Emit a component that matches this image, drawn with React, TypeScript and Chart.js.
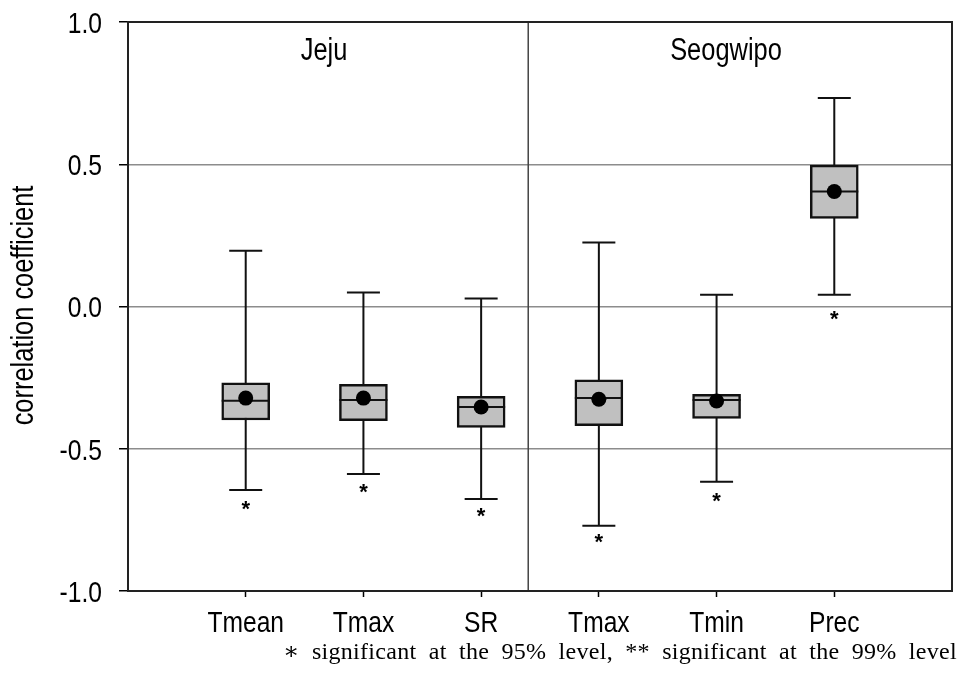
import React, { useEffect, useRef } from 'react';
import { Chart, registerables } from 'chart.js';

Chart.register(...registerables);

// ---- data ----
const categories = ['Tmean', 'Tmax', 'SR', 'Tmax', 'Tmin', 'Prec'];
const positions = [1, 2, 3, 4, 5, 6];
const whiskerLow = [-0.645, -0.589, -0.677, -0.771, -0.616, 0.041];
const q1 = [-0.399, -0.401, -0.425, -0.419, -0.393, 0.31];
const median = [-0.331, -0.329, -0.353, -0.322, -0.329, 0.404];
const q3 = [-0.268, -0.274, -0.316, -0.258, -0.309, 0.497];
const whiskerHigh = [0.196, 0.049, 0.028, 0.225, 0.041, 0.733];
const mean = [-0.322, -0.322, -0.353, -0.326, -0.332, 0.404];
const significance = ['*', '*', '*', '*', '*', '*'];
const starValues = [-0.692, -0.631, -0.718, -0.807, -0.663, -0.025];
const yTicks = [-1, -0.5, 0, 0.5, 1];
const panels = ['Jeju', 'Seogwipo'];
const panelX = [1.665, 5.08];
const panelY = 0.867;
const dividerX = 3.4;
const yTitle = 'correlation coefficient';
const footnote = '∗ significant at the 95% level, ** significant at the 99% level';

const SANS = "'Liberation Sans', Arial, sans-serif";
const SERIF = "'Liberation Serif', 'DejaVu Serif', serif";
const NARROW = 0.82;

function narrowText(ctx: any, text: string, x: number, y: number, size: number, align: string, rotate = 0) {
  ctx.save();
  ctx.translate(x, y);
  if (rotate) ctx.rotate(rotate);
  ctx.scale(NARROW, 1);
  ctx.font = `${size}px ${SANS}`;
  ctx.textAlign = align;
  ctx.textBaseline = 'alphabetic';
  ctx.fillStyle = '#000';
  ctx.fillText(text, 0, 0);
  ctx.restore();
}

const boxPlugin = {
  id: 'boxExtras',
  beforeDatasetsDraw(chart: any) {
    const { ctx, chartArea, scales } = chart;
    const x = scales.x;
    const y = scales.y;
    ctx.save();
    // divider
    ctx.strokeStyle = '#444';
    ctx.lineWidth = 1.5;
    const dx = x.getPixelForValue(dividerX);
    ctx.beginPath();
    ctx.moveTo(dx, chartArea.top);
    ctx.lineTo(dx, chartArea.bottom);
    ctx.stroke();
    // whiskers
    ctx.strokeStyle = '#111';
    ctx.lineWidth = 2;
    const capHalf = 16.5;
    positions.forEach((p, i) => {
      const px = x.getPixelForValue(p);
      const yl = y.getPixelForValue(whiskerLow[i]);
      const yh = y.getPixelForValue(whiskerHigh[i]);
      ctx.beginPath();
      ctx.moveTo(px, yl);
      ctx.lineTo(px, yh);
      ctx.moveTo(px - capHalf, yl);
      ctx.lineTo(px + capHalf, yl);
      ctx.moveTo(px - capHalf, yh);
      ctx.lineTo(px + capHalf, yh);
      ctx.stroke();
    });
    ctx.restore();
  },
  afterDatasetDraw(chart: any, args: any) {
    if (args.meta.type !== 'bar') return;
    const { ctx, scales } = chart;
    ctx.save();
    ctx.strokeStyle = '#111';
    ctx.lineWidth = 2;
    args.meta.data.forEach((el: any, i: number) => {
      const half = el.width / 2;
      const my = scales.y.getPixelForValue(median[i]);
      ctx.beginPath();
      ctx.moveTo(el.x - half, my);
      ctx.lineTo(el.x + half, my);
      ctx.stroke();
    });
    ctx.restore();
  },
  afterDatasetsDraw(chart: any) {
    const { ctx, chartArea, scales } = chart;
    const x = scales.x;
    const y = scales.y;
    ctx.save();
    // frame
    ctx.strokeStyle = '#222';
    ctx.lineWidth = 2;
    ctx.strokeRect(chartArea.left, chartArea.top, chartArea.right - chartArea.left, chartArea.bottom - chartArea.top);
    // stars
    ctx.fillStyle = '#000';
    ctx.textAlign = 'center';
    ctx.textBaseline = 'alphabetic';
    ctx.font = `bold 22px ${SANS}`;
    positions.forEach((p, i) => {
      ctx.fillText(significance[i], x.getPixelForValue(p), y.getPixelForValue(starValues[i]) + 12.5);
    });
    ctx.restore();
    // panel labels
    panels.forEach((t, i) => {
      narrowText(ctx, t, x.getPixelForValue(panelX[i]), y.getPixelForValue(panelY), 31, 'center');
    });
    // y tick labels
    y.ticks.forEach((t: any) => {
      narrowText(ctx, Number(t.value).toFixed(1), chartArea.left - 26, y.getPixelForValue(t.value) + 10.8, 30, 'right');
    });
    // x tick labels
    x.ticks.forEach((t: any) => {
      const i = positions.indexOf(Number(t.value));
      if (i >= 0) narrowText(ctx, categories[i], x.getPixelForValue(t.value), 632, 30, 'center');
    });
    // y title
    narrowText(ctx, yTitle, 33, (chartArea.top + chartArea.bottom) / 2 - 1, 31, 'center', -Math.PI / 2);
  },
  afterDraw(chart: any) {
    const { ctx } = chart;
    ctx.save();
    ctx.fillStyle = '#000';
    ctx.font = `24px ${SERIF}`;
    ctx.textAlign = 'left';
    ctx.textBaseline = 'alphabetic';
    const target = 674;
    try {
      (ctx as any).letterSpacing = '0.3px';
      (ctx as any).wordSpacing = '0px';
      const w = ctx.measureText(footnote).width;
      const spaces = (footnote.match(/ /g) || []).length;
      const extra = Math.max(0, (target - w) / spaces);
      (ctx as any).wordSpacing = `${extra}px`;
    } catch (e) {
      /* ignore */
    }
    ctx.fillText(footnote, 957 - target, 659);
    ctx.restore();
  },
};

export default function App() {
  const ref = useRef<HTMLCanvasElement | null>(null);
  useEffect(() => {
    if (!ref.current) return;
    const chart = new Chart(ref.current, {
      type: 'bar',
      data: {
        datasets: [
          {
            type: 'scatter',
            label: 'mean',
            data: positions.map((p, i) => ({ x: p, y: mean[i] })),
            pointRadius: 7.5,
            pointHoverRadius: 7.5,
            pointBackgroundColor: '#000',
            pointBorderColor: '#000',
            pointBorderWidth: 0,
            order: 0,
          } as any,
          {
            type: 'bar',
            label: 'IQR',
            data: positions.map((p, i) => ({ x: p, y: [q1[i], q3[i]] })),
            backgroundColor: '#c0c0c0',
            borderColor: '#111',
            borderWidth: 2.5,
            borderSkipped: false,
            barThickness: 48,
            order: 1,
          } as any,
        ],
      },
      options: {
        responsive: false,
        animation: false,
        layout: { padding: { left: 0, top: 22, right: 13, bottom: 0 } },
        plugins: { legend: { display: false }, tooltip: { enabled: false } },
        scales: {
          x: {
            type: 'linear',
            min: 0,
            max: 7,
            offset: false,
            afterBuildTicks: (s: any) => {
              s.ticks = positions.map((v) => ({ value: v }));
            },
            afterFit: (s: any) => {
              s.height = 86;
            },
            ticks: { display: false },
            grid: { drawOnChartArea: false, offset: false, tickLength: 6, tickColor: '#000', tickWidth: 1.5 },
            border: { display: false },
          },
          y: {
            type: 'linear',
            min: -1,
            max: 1,
            afterBuildTicks: (s: any) => {
              s.ticks = yTicks.map((v) => ({ value: v }));
            },
            afterFit: (s: any) => {
              s.width = 128;
            },
            ticks: { display: false },
            grid: {
              color: (c: any) =>
                c.tick && Math.abs(Math.abs(c.tick.value) - 1) < 1e-9 ? 'rgba(0,0,0,0)' : '#8c8c8c',
              lineWidth: 1.5,
              tickLength: 9,
              tickColor: '#000',
              tickWidth: 1.5,
            },
            border: { display: false },
          },
        },
      } as any,
      plugins: [boxPlugin],
    });
    return () => chart.destroy();
  }, []);
  return (
    <div style={{ position: 'fixed', left: 0, top: 0, width: 965, height: 677, background: '#fff' }}>
      <canvas ref={ref} width={965} height={677} style={{ display: 'block' }} />
    </div>
  );
}
